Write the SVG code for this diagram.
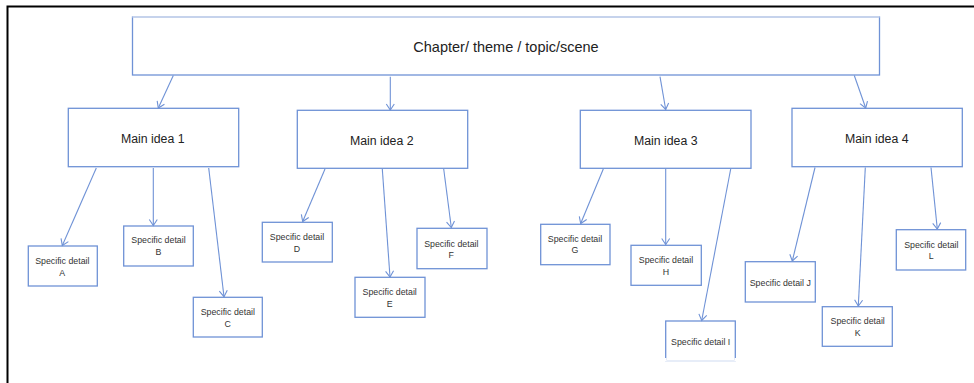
<svg xmlns="http://www.w3.org/2000/svg" width="974" height="383" viewBox="0 0 974 383">
<defs>
<marker id="ah" markerWidth="10" markerHeight="10" refX="7" refY="5" orient="auto" markerUnits="userSpaceOnUse">
<path d="M1,1 L7,5 L1,9" fill="none" stroke="#6F92D6" stroke-width="1.1"/>
</marker>
</defs>
<style>
.box{fill:#fff;stroke:#6F92D6;stroke-width:1.3}
.con{stroke:#6F92D6;stroke-width:1.1;fill:none;marker-end:url(#ah)}
.t1{font-family:"Liberation Sans",Arial,sans-serif;font-size:14.5px;fill:#222;text-anchor:middle}
.t2{font-family:"Liberation Sans",Arial,sans-serif;font-size:12.3px;fill:#222;text-anchor:middle}
.t3{font-family:"Liberation Sans",Arial,sans-serif;font-size:8.8px;fill:#333;text-anchor:middle}
</style>
<rect width="974" height="383" fill="#fff"/>
<path d="M7.5,383 V6.5 H974" fill="none" stroke="#000" stroke-width="2"/>

<g id="top">
<rect class="box" x="132.5" y="17" width="747" height="58"/>
<line x1="132.5" y1="17" x2="879.5" y2="17" stroke="#D3DCEF" stroke-width="1.4"/>
<text class="t1" x="506" y="52">Chapter/ theme / topic/scene</text>
</g>

<g id="main1"><rect class="box" x="68.3" y="108.3" width="170.4" height="58.4"/><text class="t2" x="152.7" y="142.5">Main idea 1</text></g>
<g id="main2"><rect class="box" x="297.3" y="110.3" width="170.4" height="58"/><text class="t2" x="381.7" y="144.5">Main idea 2</text></g>
<g id="main3"><rect class="box" x="580.3" y="110.3" width="170.7" height="58"/><text class="t2" x="665.7" y="144.5">Main idea 3</text></g>
<g id="main4"><rect class="box" x="792" y="108.3" width="170.3" height="58.4"/><text class="t2" x="876.7" y="142.5">Main idea 4</text></g>

<g id="detA"><rect class="box" x="28.3" y="246" width="69" height="40"/><text class="t3" x="62.3" y="264">Specific detail</text><text class="t3" x="62.3" y="275.5">A</text></g>
<g id="detB"><rect class="box" x="123.7" y="226" width="69.6" height="40"/><text class="t3" x="158.5" y="243.3">Specific detail</text><text class="t3" x="158.5" y="255">B</text></g>
<g id="detC"><rect class="box" x="193.3" y="297.3" width="69" height="39.7"/><text class="t3" x="227.8" y="315">Specific detail</text><text class="t3" x="227.8" y="326.7">C</text></g>
<g id="detD"><rect class="box" x="262.3" y="222.3" width="70" height="39.7"/><text class="t3" x="297" y="240">Specific detail</text><text class="t3" x="297" y="251.7">D</text></g>
<g id="detE"><rect class="box" x="355" y="277.3" width="70" height="40"/><text class="t3" x="389.7" y="295">Specific detail</text><text class="t3" x="389.7" y="306.7">E</text></g>
<g id="detF"><rect class="box" x="417" y="228.3" width="70" height="40.4"/><text class="t3" x="451.3" y="246.7">Specific detail</text><text class="t3" x="451.3" y="257.7">F</text></g>
<g id="detG"><rect class="box" x="540.7" y="224.3" width="69.3" height="40.4"/><text class="t3" x="575" y="242">Specific detail</text><text class="t3" x="575" y="253.3">G</text></g>
<g id="detH"><rect class="box" x="631" y="245.3" width="70.3" height="40"/><text class="t3" x="666" y="263.3">Specific detail</text><text class="t3" x="666" y="274.7">H</text></g>
<g id="detI"><rect class="box" x="665.7" y="321" width="69.6" height="40"/><line x1="665" y1="361" x2="736" y2="361" stroke="#fff" stroke-width="1.6"/><line x1="665.7" y1="358" x2="665.7" y2="361" stroke="#fff" stroke-width="1.6"/><line x1="735.3" y1="358" x2="735.3" y2="361" stroke="#fff" stroke-width="1.6"/><text class="t3" x="700.7" y="345">Specific detail I</text></g>
<g id="detJ"><rect class="box" x="745.3" y="261.7" width="70" height="40.3"/><text class="t3" x="780.3" y="286">Specific detail J</text></g>
<g id="detK"><rect class="box" x="822.3" y="306.7" width="70" height="39.6"/><text class="t3" x="857.7" y="324.3">Specific detail</text><text class="t3" x="857.7" y="335.7">K</text></g>
<g id="detL"><rect class="box" x="896.3" y="229.7" width="69.4" height="40.3"/><text class="t3" x="931.3" y="247.7">Specific detail</text><text class="t3" x="931.3" y="259">L</text></g>

<g id="connectors">
<line class="con" x1="173.3" y1="75.5" x2="158.3" y2="108"/>
<line class="con" x1="390.3" y1="76.7" x2="390.3" y2="110"/>
<line class="con" x1="660" y1="76.7" x2="665.7" y2="109.5"/>
<line class="con" x1="854.3" y1="75.5" x2="865.7" y2="108"/>
<line class="con" x1="96.3" y1="168" x2="62.3" y2="245.5"/>
<line class="con" x1="153.3" y1="168" x2="153.3" y2="225.5"/>
<line class="con" x1="208.7" y1="168" x2="224" y2="296.7"/>
<line class="con" x1="325" y1="169" x2="302.7" y2="221.5"/>
<line class="con" x1="382.3" y1="169" x2="390" y2="277"/>
<line class="con" x1="443.7" y1="169" x2="451.3" y2="227.5"/>
<line class="con" x1="603.3" y1="169" x2="580.7" y2="223.5"/>
<line class="con" x1="665.7" y1="169" x2="665.7" y2="244.5"/>
<line class="con" x1="730.7" y1="169" x2="701.7" y2="320.5"/>
<line class="con" x1="815" y1="167.5" x2="792.3" y2="261"/>
<line class="con" x1="865.3" y1="167.5" x2="858.3" y2="306"/>
<line class="con" x1="931" y1="167.5" x2="937.3" y2="229"/>
</g>
</svg>
